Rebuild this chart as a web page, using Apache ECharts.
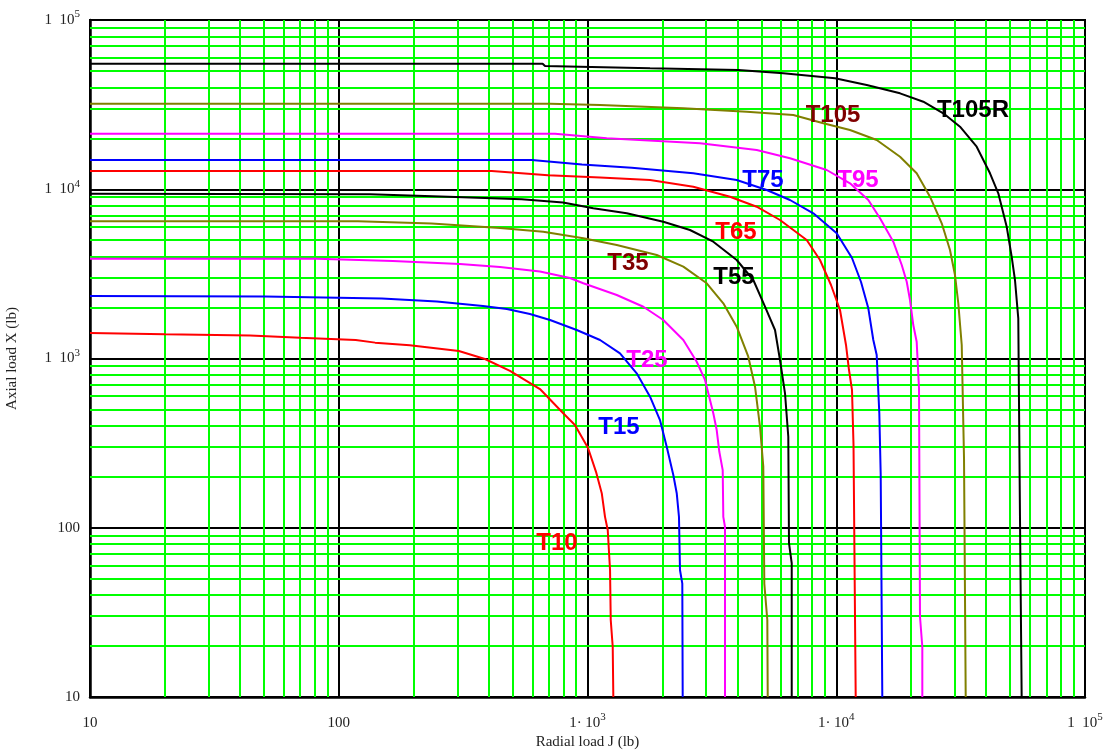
<!DOCTYPE html>
<html>
<head>
<meta charset="utf-8">
<title>Radial / axial load curves</title>
<script src="https://cdn.jsdelivr.net/npm/echarts@6/dist/echarts.min.js"></script>
<style>
  html, body { margin: 0; padding: 0; background: #fff; }
  #main { width: 1109px; height: 751px; }
</style>
</head>
<body>
<div id="main"></div>
<script>
// values: J = radial load (lb), X = axial load (lb)
const t10J = [10, 20, 44, 70, 117, 140, 193, 304, 387, 488, 644, 797, 890, 1005, 1082, 1141, 1176, 1206, 1232, 1240, 1263, 1270];
const t10X = [1415, 1390, 1368, 1327, 1286, 1241, 1197, 1107, 993, 844, 660, 476, 405, 296, 214, 160, 116, 97, 56.3, 28.5, 19.8, 10];

const t15J = [10, 50.5, 149, 248, 380, 474, 587, 707, 905, 1123, 1351, 1577, 1784, 1956, 2082, 2213, 2284, 2332, 2354, 2405, 2414];
const t15X = [2340, 2324, 2262, 2172, 2043, 1961, 1832, 1689, 1474, 1286, 1073, 817, 595, 433, 301, 205, 160, 116, 56.3, 46.8, 10];

const t25J = [10, 81.5, 165, 307, 445, 644, 850, 962, 1311, 1677, 2017, 2428, 2748, 2968, 3204, 3307, 3388, 3496, 3515, 3571, 3571];
const t25X = [3888, 3888, 3768, 3617, 3473, 3266, 2990, 2782, 2373, 2023, 1689, 1286, 957, 747, 475, 378, 281, 219, 116, 101, 10];

const t35J = [10, 119.5, 236, 445, 664, 962, 1311, 1898, 2428, 3015, 3515, 3979, 4430, 4715, 4938, 5090, 5138, 5283, 5303];
const t35X = [6465, 6465, 6275, 5902, 5613, 5131, 4684, 4088, 3487, 2782, 2119, 1541, 1025, 681, 395, 230, 46.8, 28.5, 10];

const t55J = [10, 133.5, 275, 544, 797, 1055, 1438, 2017, 2582, 3204, 3979, 4641, 5171, 5673, 5941, 6223, 6415, 6457, 6622, 6622];
const t55X = [9412, 9338, 9036, 8721, 8350, 7717, 7209, 6431, 5743, 4899, 3819, 2910, 2023, 1474, 980, 623, 345, 81, 61.7, 10];

const t65J = [10, 412, 694, 1123, 1784, 2663, 3739, 4789, 5941, 7607, 8604, 9526, 10354, 10945, 11253, 11569, 11733, 11973];
const t65X = [12817, 12817, 12089, 11733, 11342, 10354, 9036, 7887, 6581, 5014, 3819, 2719, 1934, 1202, 855, 652, 308, 10];

const t75J = [10, 597, 950, 1506, 2663, 3979, 5254, 6517, 8087, 10041, 11569, 12578, 13456, 14093, 14541, 14898, 15091, 15315];
const t75X = [14888, 14888, 14002, 13406, 12426, 11342, 9900, 8640, 7209, 5492, 3925, 2831, 1980, 1286, 1049, 475, 205, 10];

const t95J = [10, 740, 1195, 2834, 4789, 6517, 9154, 11357, 13456, 14993, 16958, 18334, 19200, 19794, 20403, 21053, 21513, 21710, 22182, 22182];
const t95X = [21292, 21292, 20000, 18684, 17056, 15237, 12994, 10842, 8640, 6736, 4899, 3568, 2843, 2216, 1577, 1257, 667, 29.8, 19.8, 10];

const t105J = [10, 707, 1123, 2428, 4365, 6720, 8872, 11357, 14541, 18049, 21053, 23817, 26546, 28657, 30016, 30950, 31947, 32632, 33147];
const t105X = [32028, 32028, 31459, 30078, 28717, 27456, 24530, 22397, 19543, 15571, 12426, 9036, 6293, 4377, 3114, 2119, 1202, 257, 10];

const t105rJ = [10, 660, 675, 1784, 4039, 6126, 9886, 13257, 18049, 22387, 26939, 31440, 36688, 41505, 44818, 48446, 50719, 52300, 53925, 54776, 55641];
const t105rX = [55167, 55167, 53467, 51819, 50638, 48415, 45232, 41305, 36881, 32906, 28095, 23421, 17838, 12426, 9465, 6007, 3995, 2910, 1728, 116, 10];

// curve labels and where they sit (data coordinates)
const labelNames = ['T10', 'T15', 'T25', 'T35', 'T55', 'T65', 'T75', 'T95', 'T105', 'T105R'];
const labelJ = [754, 1339, 1735, 1455, 3882, 3954, 5076, 12230, 9705, 35447];
const labelX = [81, 394, 980, 3666, 3013, 5590, 11342, 11342, 27456, 29118];

// axis ticks
const decadeTicks = [10, 100, 1000, 10000, 100000];
const xTickLabels = ['10', '100', '1\u00B7 10{s|3}', '1\u00B7 10{s|4}', '1  10{s|5}'];
const yTickLabels = ['10', '100', '1  10{s|3}', '1  10{s|4}', '1  10{s|5}'];
const minorSteps = [2, 3, 4, 5, 6, 7, 8, 9];

const RED = '#ff0000', BLUE = '#0000ff', MAGENTA = '#ff00ff', OLIVE = '#808000', BLACK = '#000000', MAROON = '#800000';

const curves = [
  {name: 'T10', j: t10J, x: t10X, color: RED},
  {name: 'T15', j: t15J, x: t15X, color: BLUE},
  {name: 'T25', j: t25J, x: t25X, color: MAGENTA},
  {name: 'T35', j: t35J, x: t35X, color: OLIVE},
  {name: 'T55', j: t55J, x: t55X, color: BLACK},
  {name: 'T65', j: t65J, x: t65X, color: RED},
  {name: 'T75', j: t75J, x: t75X, color: BLUE},
  {name: 'T95', j: t95J, x: t95X, color: MAGENTA},
  {name: 'T105', j: t105J, x: t105X, color: OLIVE},
  {name: 'T105R', j: t105rJ, x: t105rX, color: BLACK}
];
const labelColors = [RED, BLUE, MAGENTA, MAROON, BLACK, RED, BLUE, MAGENTA, MAROON, BLACK];

// green minor grid (2..9 in each decade)
let minorVals = [];
for (let d = 0; d < decadeTicks.length - 1; d++) {
  for (let k = 0; k < minorSteps.length; k++) {
    minorVals.push(decadeTicks[d] * minorSteps[k]);
  }
}

function tickText(list, v) {
  for (let i = 0; i < decadeTicks.length; i++) {
    if (Math.abs(v - decadeTicks[i]) / decadeTicks[i] < 1e-6) return list[i];
  }
  return '';
}

const serif = 'Liberation Serif';
const tickRich = {
  s: {fontSize: 11, fontFamily: serif, color: '#222', verticalAlign: 'top', lineHeight: 12}
};

let chartDom = document.getElementById('main');
let myChart = echarts.init(chartDom);

let series = [];

series.push({
  name: 'grid',
  type: 'line',
  data: [],
  z: 1,
  silent: true,
  markLine: {
    silent: true,
    symbol: ['none', 'none'],
    animation: false,
    label: {show: false},
    lineStyle: {color: '#00ff00', type: 'solid', width: 2},
    data: minorVals.map(v => ({xAxis: v})).concat(minorVals.map(v => ({yAxis: v})))
  }
});

for (let i = 0; i < curves.length; i++) {
  let c = curves[i];
  series.push({
    name: c.name,
    type: 'line',
    z: 5,
    showSymbol: false,
    symbol: 'none',
    animation: false,
    lineStyle: {color: c.color, width: 2},
    data: c.j.map((v, k) => [v, c.x[k]])
  });
}

series.push({
  name: 'labels',
  type: 'scatter',
  z: 10,
  symbolSize: 0,
  animation: false,
  itemStyle: {color: 'rgba(0,0,0,0)', opacity: 1},
  label: {
    show: true,
    position: 'inside',
    formatter: p => p.name,
    fontFamily: 'Liberation Sans',
    fontWeight: 'bold',
    fontSize: 24,
    opacity: 1
  },
  data: labelNames.map((n, i) => ({
    name: n,
    value: [labelJ[i], labelX[i]],
    label: {color: labelColors[i]}
  }))
});

let option = {
  backgroundColor: '#fff',
  animation: false,
  grid: {
    left: 90, right: 24, top: 20, bottom: 54,
    containLabel: false,
    outerBoundsMode: 'none',
    show: true, borderColor: '#000', borderWidth: 2
  },
  xAxis: {
    type: 'log',
    logBase: 10,
    min: 10,
    max: 100000,
    name: 'Radial load J (lb)',
    nameLocation: 'middle',
    nameGap: 38,
    nameMoveOverlap: false,
    nameTextStyle: {fontFamily: serif, fontSize: 15, color: '#222'},
    axisLine: {show: true, lineStyle: {color: '#000', width: 2.5}},
    axisTick: {show: false},
    splitLine: {show: true, lineStyle: {color: '#000', width: 2}},
    axisLabel: {
      margin: 15,
      fontFamily: serif,
      fontSize: 15,
      color: '#222',
      lineHeight: 22,
      verticalAlign: 'top',
      formatter: v => tickText(xTickLabels, v),
      rich: tickRich
    }
  },
  yAxis: {
    type: 'log',
    logBase: 10,
    min: 10,
    max: 100000,
    name: 'Axial load X (lb)',
    nameLocation: 'middle',
    nameGap: 70,
    nameMoveOverlap: false,
    nameTextStyle: {fontFamily: serif, fontSize: 15, color: '#222'},
    axisLine: {show: true, lineStyle: {color: '#000', width: 2.5}},
    axisTick: {show: false},
    splitLine: {show: true, lineStyle: {color: '#000', width: 2}},
    axisLabel: {
      margin: 10,
      fontFamily: serif,
      fontSize: 15,
      color: '#222',
      lineHeight: 22,
      formatter: v => tickText(yTickLabels, v),
      rich: tickRich
    }
  },
  series: series
};

option && myChart.setOption(option);
</script>
</body>
</html>
